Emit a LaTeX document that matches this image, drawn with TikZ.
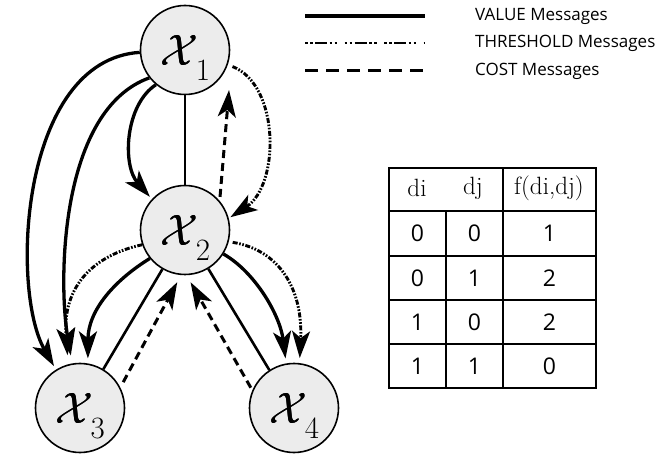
\documentclass[tikz,border=0pt]{standalone}
\usepackage{fontspec}
\DeclareFontShape{OMS}{cmsy}{m}{n}{<->cmsy10}{}
\DeclareFontShape{OT1}{cmr}{m}{n}{<->cmr10}{}
\newfontfamily\lgfont{Open Sans}
\usetikzlibrary{arrows.meta}
\newcommand{\bigX}{\rlap{$\mathcal{X}$}\kern0.9pt$\mathcal{X}$}
\newcommand{\vlab}[1]{\bigX\kern-3pt\smash{\raisebox{-15pt}{\fontsize{31}{31}\selectfont #1}}}
\tikzset{
  vnode/.style={circle, draw, line width=1.6pt, fill=gray!15, minimum size=89pt, inner sep=0pt, font=\fontsize{44}{44}\selectfont},
  tipst/.style={-{Stealth[length=27pt,width=18pt,inset=7pt]}},
  valline/.style={line width=3.3pt},
  plain/.style={line width=2.6pt},
  thrline/.style={line width=2.9pt, dash pattern=on 5pt off 1.6pt on 1.6pt off 1.6pt on 1.6pt off 1.6pt},
  thrlegend/.style={line width=2.6pt, dash pattern=on 2.5pt off 2.5pt on 2.5pt off 2.5pt on 12pt off 2.5pt on 2.5pt off 2.5pt on 2.5pt off 7.5pt},
  costline/.style={line width=3pt, dash pattern=on 8pt off 5pt},
  costlegend/.style={line width=3pt, dash pattern=on 13pt off 8pt},
  lgtext/.style={anchor=west, inner sep=0pt, font=\lgfont\fontsize{17}{17}\selectfont},
  hdtext/.style={font=\rmfamily\fontsize{25}{25}\selectfont},
  celltext/.style={font=\lgfont\fontsize{23}{23}\selectfont},
  grid/.style={line width=1.4pt}
}
\begin{document}
\begin{tikzpicture}[x=1pt,y=-1pt]
\useasboundingbox (0,0) rectangle (672,454);
% nodes
\node[vnode] (x1) at (185,50) {\vlab{1}};
\node[vnode] (x2) at (185,230) {\vlab{2}};
\node[vnode] (x3) at (80,408) {\vlab{3}};
\node[vnode] (x4) at (294,408) {\vlab{4}};
% x1 edges
\draw[plain] (x1) -- (x2);
\draw[valline,tipst,shorten >=3pt] (x1.230) .. controls (125,105) and (122,165) .. (x2.137);
\draw[valline,tipst,shorten >=4pt] (x1.183) .. controls (20,60) and (10,290) .. (x3.122);
\draw[valline,tipst,shorten >=8pt] (x1.218) .. controls (60,110) and (58,280) .. (x3.100);
\draw[thrline,tipst,shorten <=5pt,shorten >=2pt] (x1.-19) .. controls (280,85) and (280,185) .. (x2.15);
\draw[costline,tipst,shorten <=4pt] (x2.40) -- ([shift={(12,8)}]x1.-45);
% x2 edges
\draw[thrline,tipst,shorten >=9pt] (x2.199) .. controls (95,255) and (62,285) .. (x3.105);
\draw[valline,tipst,shorten >=5pt] (x2.219) .. controls (115,280) and (88,310) .. (x3.80);
\draw[plain] (x3.59) -- (x2.240);
\draw[costline,tipst,shorten <=6pt,shorten >=8pt] (x3.27) -- (x2.265);
\draw[costline,tipst,shorten <=3pt,shorten >=8pt] (x4.157) -- (x2.272);
\draw[plain] (x2.301) -- (x4.123);
\draw[valline,tipst,shorten >=5pt] (x2.328) .. controls (255,272) and (280,315) .. (x4.100);
\draw[thrline,tipst,shorten <=4pt,shorten >=5pt] (x2.345) .. controls (280,250) and (303,290) .. (x4.83);
% legend
\coordinate (la1) at (305,16); \coordinate (lb1) at (425,16);
\coordinate (la2) at (305,43); \coordinate (lb2) at (425,43);
\coordinate (la3) at (305,71); \coordinate (lb3) at (425,71);
\draw[line width=3.5pt] (la1) -- (lb1);
\draw[thrlegend] (la2) -- (lb2);
\draw[costlegend] (la3) -- (lb3);
\node[lgtext] (t1) at (475,16) {VALUE Messages};
\node[lgtext] (t2) at (475,43) {THRESHOLD Messages};
\node[lgtext] (t3) at (475,71) {COST Messages};
% table
\draw[grid] (389,168) rectangle (596,388);
\draw[grid] (503,168) -- (503,388);
\draw[grid] (446,211) -- (446,388);
\foreach \yy in {211,256,300,344} \draw[grid] (389,\yy) -- (596,\yy);
\node[hdtext] (h1) at (417,188) {di};
\node[hdtext] (h2) at (473,188) {dj};
\node[hdtext] (h3) at (549,188) {f(di,dj)};
\node[celltext] (c11) at (417.5,233.5) {0};
\node[celltext] (c12) at (474.5,233.5) {0};
\node[celltext] (c13) at (549.5,233.5) {1};
\node[celltext] (c21) at (417.5,278) {0};
\node[celltext] (c22) at (474.5,278) {1};
\node[celltext] (c23) at (549.5,278) {2};
\node[celltext] (c31) at (417.5,322) {1};
\node[celltext] (c32) at (474.5,322) {0};
\node[celltext] (c33) at (549.5,322) {2};
\node[celltext] (c41) at (417.5,366) {1};
\node[celltext] (c42) at (474.5,366) {1};
\node[celltext] (c43) at (549.5,366) {0};
\end{tikzpicture}
\end{document}
